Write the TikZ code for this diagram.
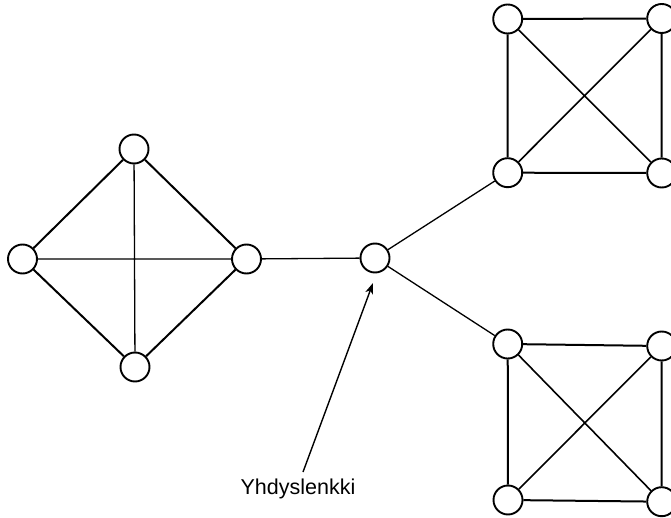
\documentclass[tikz,border=0pt]{standalone}
\usepackage{fontspec}
\setmainfont{Liberation Sans}
\usetikzlibrary{arrows.meta}
\begin{document}
\begin{tikzpicture}[x=1pt,y=-1pt,
  vertex/.style={draw,circle,minimum size=29pt,inner sep=0pt,line width=1.9pt,fill=white},
  rim/.style={line width=2pt},
  inner/.style={line width=1.3pt},
  diag/.style={line width=1.6pt},
  link/.style={line width=1.3pt},
  pointer/.style={line width=1.4pt,-{Stealth[length=11pt,width=8pt,inset=3pt]}}]
\useasboundingbox (0,0) rectangle (671,518);

% diamond cluster
\node[vertex] (dt) at (134,149) {};
\node[vertex] (dl) at (22.5,259) {};
\node[vertex] (dr) at (246.5,259) {};
\node[vertex] (db) at (135,367) {};

% hub
\node[vertex] (hub) at (375,258) {};

% upper square cluster
\node[vertex] (atl) at (507.7,19) {};
\node[vertex] (atr) at (661.7,18.5) {};
\node[vertex] (abl) at (507.7,172.7) {};
\node[vertex] (abr) at (661.7,173) {};

% lower square cluster
\node[vertex] (btl) at (507.7,344) {};
\node[vertex] (btr) at (661.7,346) {};
\node[vertex] (bbl) at (508,500) {};
\node[vertex] (bbr) at (661.7,501.7) {};

% diamond edges
\draw[rim] (dt) -- (dl) (dl) -- (db) (db) -- (dr) (dr) -- (dt);
\draw[inner] (dt) -- (db) (dl) -- (dr);

% square edges
\draw[rim] (atl) -- (atr) (atr) -- (abr) (abr) -- (abl) (abl) -- (atl);
\draw[diag] (atl) -- (abr) (atr) -- (abl);
\draw[rim] (btl) -- (btr) (btr) -- (bbr) (bbr) -- (bbl) (bbl) -- (btl);
\draw[diag] (btl) -- (bbr) (btr) -- (bbl);

% links through the hub
\draw[link] (dr) -- (hub);
\draw[link] (hub) -- (abl);
\draw[link] (hub) -- (btl);

% label with pointer
\node[font=\fontsize{21.5}{26}\selectfont,inner sep=0pt] (lbl) at (298,489) {Yhdyslenkki};
\coordinate (tail) at (303,472);
\coordinate (tip) at (373,283);
\draw[pointer] (tail) -- (tip);
\end{tikzpicture}
\end{document}
